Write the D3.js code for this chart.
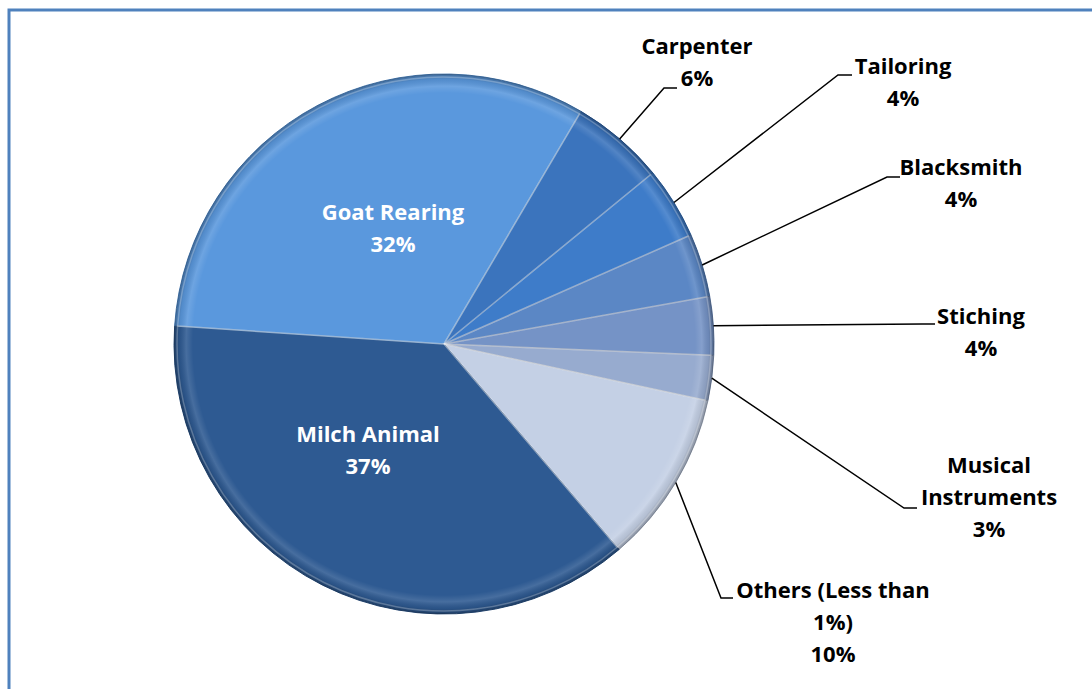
<!DOCTYPE html>
<html>
<head>
<meta charset="utf-8">
<script src="https://cdn.jsdelivr.net/npm/d3@7"></script>
<style>
  body { margin: 0; background: #fff; }
  text { font-family: "Open Sans", Lato, sans-serif; font-weight: bold; }
</style>
</head>
<body>
<svg width="1092" height="689"></svg>
<script>
const svg = d3.select("svg");

// slices clockwise, starting at the Carpenter edge
const categories = ["Carpenter", "Tailoring", "Blacksmith", "Stiching", "Musical Instruments", "Others (Less than 1%)", "Milch Animal", "Goat Rearing"];
const values = [5.6, 4.3, 3.8, 3.5, 2.7, 10.4, 37.3, 32.4];
const colors = ["#3b74bd", "#3e7cc9", "#5b87c5", "#7593c6", "#97abcf", "#c4d0e5", "#2e5a92", "#5a98dd"];
// label lines as shown in the chart
const labelLines = [["Carpenter"], ["Tailoring"], ["Blacksmith"], ["Stiching"], ["Musical", "Instruments"], ["Others (Less than", "1%)"], ["Milch Animal"], ["Goat Rearing"]];

const cx = 444, cy = 344, r = 270;
const startAngle = 30.5 * Math.PI / 180;

// frame
svg.append("rect")
    .attr("x", 9).attr("y", 10)
    .attr("width", 1200).attr("height", 800)
    .attr("fill", "none")
    .attr("stroke", "#4f81bd")
    .attr("stroke-width", 3);

// rim shading, in the pie group's coordinates
const defs = svg.append("defs");
const rim = defs.append("radialGradient")
    .attr("id", "rim")
    .attr("gradientUnits", "userSpaceOnUse")
    .attr("cx", 0).attr("cy", 0).attr("r", r);
rim.append("stop").attr("offset", "0.93").attr("stop-color", "#fff").attr("stop-opacity", 0);
rim.append("stop").attr("offset", "0.955").attr("stop-color", "#fff").attr("stop-opacity", 0.12);
rim.append("stop").attr("offset", "0.98").attr("stop-color", "#000").attr("stop-opacity", 0.08);
rim.append("stop").attr("offset", "1").attr("stop-color", "#000").attr("stop-opacity", 0.3);

const pie = d3.pie().sort(null).value(d => d)
    .startAngle(startAngle).endAngle(startAngle + 2 * Math.PI);
const arcs = pie(values);
const arc = d3.arc().innerRadius(0).outerRadius(r);

const g = svg.append("g").attr("transform", `translate(${cx},${cy})`);

g.selectAll("path.slice")
    .data(arcs)
    .enter().append("path")
    .attr("class", "slice")
    .attr("d", arc)
    .attr("fill", (d, i) => colors[i])
    .attr("stroke", (d, i) => d3.color(colors[i]).darker(0.6))
    .attr("stroke-width", 1);

g.selectAll("path.bevel")
    .data(arcs)
    .enter().append("path")
    .attr("class", "bevel")
    .attr("d", arc)
    .style("fill", "url(#rim)");

// light inner edge along slice sides
g.selectAll("path.hl")
    .data(arcs)
    .enter().append("path")
    .attr("class", "hl")
    .attr("d", d3.arc().innerRadius(0).outerRadius(r - 3))
    .attr("fill", "none")
    .attr("stroke", "#fff")
    .attr("stroke-opacity", 0.25)
    .attr("stroke-width", 1.5);

const fs = 22, lh = 32;

// inside labels (Milch Animal, Goat Rearing)
const insidePos = { 6: [368, 436], 7: [393, 214] };
// outside labels: text centre x, first line y, leader elbow
const outside = {
    0: { x: 697, y: 48, elbow: [664, 88], end: 677 },
    1: { x: 903, y: 68, elbow: [838, 75], end: 852 },
    2: { x: 961, y: 169, elbow: [887, 177], end: 900 },
    3: { x: 981, y: 318, elbow: [922, 324], end: 935 },
    4: { x: 989, y: 467, elbow: [904, 508], end: 917 },
    5: { x: 833, y: 592, elbow: [721, 598], end: 733 }
};

arcs.forEach((d, i) => {
    const pct = Math.round(d.data) + "%";
    const lines = labelLines[i].concat([pct]);
    if (insidePos[i]) {
        const [x, y] = insidePos[i];
        lines.forEach((t, k) => {
            svg.append("text")
                .attr("x", x).attr("y", y + k * lh)
                .attr("text-anchor", "middle")
                .attr("dominant-baseline", "middle")
                .attr("font-size", fs)
                .attr("fill", "#fff")
                .text(t);
        });
    } else {
        const o = outside[i];
        const mid = (d.startAngle + d.endAngle) / 2;
        const sx = cx + Math.sin(mid) * r;
        const sy = cy - Math.cos(mid) * r;
        svg.append("polyline")
            .attr("points", [[sx, sy], o.elbow, [o.end, o.elbow[1]]].map(p => p.join(",")).join(" "))
            .attr("fill", "none")
            .attr("stroke", "#000")
            .attr("stroke-width", 1.5);
        lines.forEach((t, k) => {
            svg.append("text")
                .attr("x", o.x).attr("y", o.y + k * lh)
                .attr("text-anchor", "middle")
                .attr("dominant-baseline", "middle")
                .attr("font-size", fs)
                .attr("fill", "#000")
                .text(t);
        });
    }
});
</script>
</body>
</html>
